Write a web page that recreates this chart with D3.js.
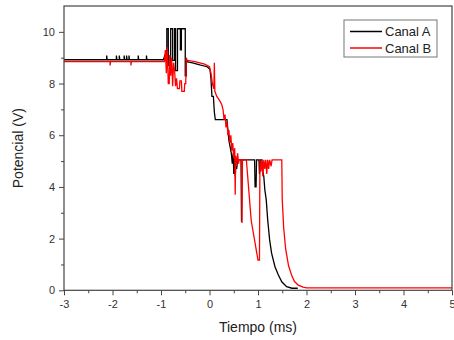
<!DOCTYPE html>
<html><head><meta charset="utf-8">
<script src="https://cdn.jsdelivr.net/npm/d3@7"></script>
<style>
html,body{margin:0;padding:0;background:#fff;}
svg{display:block;font-family:"Liberation Sans",Arial,sans-serif;}
</style></head>
<body>
<svg id="c" width="454" height="340"></svg>
<script>
// ---- data ----
const xTicks = [-3,-2,-1,0,1,2,3,4,5];
const xMinor = [-2.5,-1.5,-0.5,0.5,1.5,2.5,3.5,4.5];
const yTicks = [0,2,4,6,8,10];
const yMinor = [1,3,5,7,9];
const seriesNames = ["Canal A","Canal B"];
const seriesColors = ["#000000","#ff0000"];

const canalA = [
[-3,8.92],
[-2.12,8.92],[-2.12,9.08],[-2.11,8.92],
[-1.92,8.92],[-1.92,9.08],[-1.91,8.92],
[-1.86,8.92],[-1.86,9.08],[-1.85,8.92],
[-1.76,8.92],[-1.76,9.08],[-1.75,8.92],
[-1.71,8.92],[-1.71,9.08],[-1.7,8.92],
[-1.66,8.92],[-1.66,9.08],[-1.65,8.92],
[-1.47,8.92],[-1.47,9.08],[-1.46,8.92],
[-1.3,8.92],[-1.3,9.08],[-1.29,8.92],
[-0.95,8.92],[-0.92,9.1],[-0.88,9.1],[-0.88,10.12],[-0.85,10.12],[-0.85,8.7],[-0.8,8.7],[-0.8,10.12],
[-0.76,10.12],[-0.76,8.9],[-0.72,8.9],[-0.72,10.12],[-0.7,10.12],[-0.7,8.5],[-0.66,8.5],[-0.66,10.12],
[-0.6,10.12],[-0.6,9.3],[-0.58,9.3],[-0.58,10.12],[-0.5,10.12],[-0.5,8.3],[-0.48,8.3],[-0.48,8.85],
[-0.35,8.8],[-0.2,8.72],[-0.05,8.65],[0.01,8.55],[0.03,8.2],[0.05,7.5],[0.08,7.5],[0.1,6.9],[0.12,6.6],
[0.36,6.6],[0.38,6.2],[0.4,5.8],[0.43,5.5],[0.45,5.3],[0.47,4.9],[0.49,5.3],[0.5,4.5],[0.52,5.1],
[0.53,4.4],[0.55,5.05],[0.56,4.7],[0.58,5.05],
[0.65,5.05],[0.66,2.65],[0.67,5.05],
[0.93,5.05],[0.94,4.0],[0.96,4.0],[0.97,5.05],[1.02,5.05],[1.03,4.5],[1.05,5.05],[1.08,5.05],
[1.1,4.6],[1.12,4.4],[1.14,3.9],[1.17,3.5],[1.2,2.72],[1.24,1.95],[1.28,1.44],[1.35,0.91],
[1.42,0.59],[1.49,0.33],[1.59,0.14],[1.7,0.08],[1.82,0.08]
];

const canalB = [
[-3,8.85],
[-2.05,8.85],[-2.05,8.7],[-2.04,8.85],
[-1.62,8.85],[-1.62,8.7],[-1.61,8.85],
[-0.93,8.85],[-0.91,9.3],[-0.89,8.4],[-0.87,9.4],[-0.85,8.0],[-0.83,8.0],[-0.82,9.1],[-0.8,8.3],
[-0.78,9.0],[-0.76,7.9],[-0.74,8.8],[-0.72,8.5],[-0.7,7.9],[-0.68,8.2],[-0.66,7.8],[-0.62,7.8],
[-0.61,8.1],[-0.58,8.1],[-0.57,7.7],[-0.52,7.7],[-0.51,8.0],[-0.49,8.0],[-0.48,9.0],[-0.46,8.9],
[-0.3,8.85],[-0.1,8.75],[0.0,8.65],[0.03,8.4],[0.06,8.0],[0.09,7.8],[0.1,8.8],[0.11,7.7],[0.15,7.5],
[0.2,7.37],[0.25,7.2],[0.28,6.98],[0.3,6.6],[0.32,6.8],[0.34,6.3],[0.36,6.5],[0.38,6.0],[0.4,6.2],
[0.42,5.7],[0.44,6.0],[0.46,5.4],[0.48,5.7],[0.5,5.1],[0.52,5.5],[0.53,3.7],[0.54,5.2],[0.56,4.8],
[0.58,5.3],[0.6,4.9],[0.61,5.05],
[0.66,5.05],[0.67,2.6],[0.68,5.05],
[0.76,5.05],[0.86,2.7],[1.0,1.17],[1.03,1.17],[1.04,5.05],
[1.06,4.6],[1.08,5.05],[1.1,4.4],[1.12,5.05],[1.14,4.7],[1.16,5.05],[1.18,4.5],[1.2,5.05],
[1.22,4.7],[1.24,5.05],[1.27,4.8],[1.29,5.05],
[1.49,5.05],[1.5,3.5],[1.53,2.4],[1.57,1.6],[1.63,0.95],[1.7,0.55],[1.75,0.35],[1.83,0.2],
[1.93,0.12],[2.0,0.09],[5,0.09]
];

// ---- layout ----
const L = 64, R = 452, T = 6, B = 290.3;
const svg = d3.select("#c");
const x = d3.scaleLinear().domain([-3,5]).range([L,R]);
const y = d3.scaleLinear().domain([0,11]).range([B,T]);
const axisColor = "#444";

// axes
const gx = svg.append("g").attr("transform",`translate(0,${B})`)
  .call(d3.axisBottom(x).tickValues(xTicks).tickSize(5).tickPadding(5).tickFormat(d3.format("d")));
const gxm = svg.append("g").attr("transform",`translate(0,${B})`)
  .call(d3.axisBottom(x).tickValues(xMinor).tickSize(3).tickFormat(""));
const gy = svg.append("g").attr("transform",`translate(${L},0)`)
  .call(d3.axisLeft(y).tickValues(yTicks).tickSize(5).tickPadding(4).tickFormat(d3.format("d")));
const gym = svg.append("g").attr("transform",`translate(${L},0)`)
  .call(d3.axisLeft(y).tickValues(yMinor).tickSize(3).tickFormat(""));
[gx,gxm,gy,gym].forEach(g=>{
  g.select(".domain").remove();
  g.selectAll("line").attr("stroke",axisColor);
  g.selectAll("text").attr("fill","#333").style("font-size","11px")
   .style("font-family","'Liberation Sans',Arial,sans-serif");
});
gx.selectAll("text").text(d=>d<0?"-"+Math.abs(d):d)
  .filter(d=>d===5).attr("text-anchor","end").attr("dx","3px");

// lines
const line = d3.line().x(d=>x(d[0])).y(d=>y(d[1]));
[canalA,canalB].forEach((s,i)=>{
  svg.append("path").datum(s).attr("d",line)
    .attr("fill","none").attr("stroke",seriesColors[i])
    .attr("stroke-width",1.3).attr("stroke-linejoin","miter");
});

// frame
svg.append("rect").attr("x",L).attr("y",T).attr("width",R-L).attr("height",B-T)
  .attr("fill","none").attr("stroke",axisColor).attr("stroke-width",1.2);

// titles
svg.append("text").attr("x",(L+R)/2).attr("y",332).attr("text-anchor","middle")
  .attr("fill","#222").style("font-size","14px").text("Tiempo (ms)");
svg.append("text").attr("transform",`translate(23,${(T+B)/2}) rotate(-90)`)
  .attr("text-anchor","middle").attr("fill","#222").style("font-size","14px").text("Potencial (V)");

// legend
const lg = svg.append("g");
lg.append("rect").attr("x",344).attr("y",20).attr("width",93).attr("height",37)
  .attr("fill","#fff").attr("stroke","#777").attr("stroke-width",1);
seriesNames.forEach((n,i)=>{
  const yy = 31.5 + i*16.5;
  lg.append("line").attr("x1",350).attr("x2",382).attr("y1",yy).attr("y2",yy)
    .attr("stroke",seriesColors[i]).attr("stroke-width",1.5);
  lg.append("text").attr("x",385).attr("y",yy+4.5).attr("fill","#222")
    .style("font-size","13px").text(n);
});
</script>
</body></html>
